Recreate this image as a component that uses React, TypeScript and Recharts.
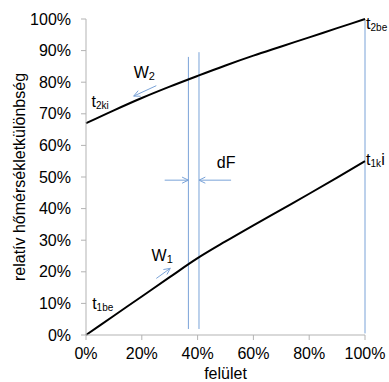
import React from "react";
import { LineChart, Line, XAxis, YAxis, ReferenceLine, ReferenceDot } from "recharts";

// relative surface (felület)
const surface = [0, 0.1, 0.2, 0.3, 0.4, 0.5, 0.6, 0.7, 0.8, 0.9, 1];
// t2 curve (upper) and t1 curve (lower)
const hotSide = [0.67, 0.711, 0.75, 0.786, 0.82, 0.853, 0.884, 0.913, 0.942, 0.971, 1.0];
const coldSide = [0, 0.061, 0.122, 0.183, 0.243, 0.296, 0.347, 0.397, 0.447, 0.498, 0.55];

const xTicks = [0, 0.2, 0.4, 0.6, 0.8, 1];
const yTicks = [0, 0.1, 0.2, 0.3, 0.4, 0.5, 0.6, 0.7, 0.8, 0.9, 1];

// blue guide lines [x, yFrom, yTo]
const guides = [
  [0.367, 0.019, 0.88],
  [0.405, 0.019, 0.895],
  [1, 0.005, 1],
];

// arrows [xFrom, yFrom, xTo, yTo]
const arrows = [
  [0.282, 0.49, 0.367, 0.49],
  [0.52, 0.49, 0.405, 0.49],
  [0.252, 0.789, 0.171, 0.756],
  [0.252, 0.179, 0.302, 0.211],
];

// text notes: position, main text, subscript, tail
const notes = [
  { x: 0.02, y: 0.723, main: "t", sub: "2ki", tail: "" },
  { x: 0.022, y: 0.082, main: "t", sub: "1be", tail: "" },
  { x: 1.004, y: 0.968, main: "t", sub: "2be", tail: "" },
  { x: 1.004, y: 0.538, main: "t", sub: "1k", tail: "i" },
  { x: 0.171, y: 0.813, main: "W", sub: "2", tail: "" },
  { x: 0.235, y: 0.234, main: "W", sub: "1", tail: "" },
  { x: 0.469, y: 0.528, main: "dF", sub: "", tail: "" },
];

const rows = surface.map((x, i) => ({ x, upper: hotSide[i], lower: coldSide[i] }));

const BLUE = "#7aa3d8";
const AXIS = "#b3b3b3";
const pct = (v: number) => `${Math.round(v * 100)}%`;

const ArrowShape = (props: any) => {
  const { x1, y1, x2, y2 } = props;
  const ang = Math.atan2(y2 - y1, x2 - x1);
  const len = 7;
  const spread = 0.45;
  const p1 = [x2 - len * Math.cos(ang - spread), y2 - len * Math.sin(ang - spread)];
  const p2 = [x2 - len * Math.cos(ang + spread), y2 - len * Math.sin(ang + spread)];
  return (
    <g>
      <line x1={x1} y1={y1} x2={x2} y2={y2} stroke={BLUE} strokeWidth={1} />
      <polyline
        points={`${p1[0]},${p1[1]} ${x2},${y2} ${p2[0]},${p2[1]}`}
        fill="none"
        stroke={BLUE}
        strokeWidth={1}
      />
    </g>
  );
};

const noteShape = (n: (typeof notes)[number]) => (props: any) => {
  const subSize = n.main === "W" ? 11 : 10;
  return (
    <text x={props.cx} y={props.cy} fontSize={16} fill="#000" fontFamily="Liberation Sans, Arial, sans-serif">
      {n.main}
      {n.sub && (
        <tspan fontSize={subSize} dy={2}>
          {n.sub}
        </tspan>
      )}
      {n.tail && (
        <tspan fontSize={16} dy={-2}>
          {n.tail}
        </tspan>
      )}
    </text>
  );
};

export default function App() {
  return (
    <div style={{ position: "absolute", left: 0, top: 0 }}>
      <LineChart
        width={389}
        height={382}
        data={rows}
        margin={{ top: 19, right: 24, bottom: 0, left: 0 }}
        style={{ fontFamily: "Liberation Sans, Arial, sans-serif" }}
      >
        <XAxis
          dataKey="x"
          type="number"
          domain={[0, 1]}
          ticks={xTicks}
          tickFormatter={pct}
          height={47}
          tickSize={5}
          tickMargin={8}
          stroke={AXIS}
          tick={{ fill: "#000", fontSize: 16 }}
          label={{ value: "felület", position: "insideBottom", offset: 3, fill: "#000", fontSize: 16 }}
        />
        <YAxis
          type="number"
          domain={[0, 1]}
          ticks={yTicks}
          tickFormatter={pct}
          width={86}
          tickSize={5}
          tickMargin={10}
          stroke={AXIS}
          tick={{ fill: "#000", fontSize: 16 }}
        />
        <text transform="rotate(-90)" x={-177} y={24.5} textAnchor="middle" fontSize={16} fill="#000">
          relatív hőmérsékletkülönbség
        </text>
        {guides.map(([x, a, b], i) => (
          <ReferenceLine
            key={`g${i}`}
            segment={[
              { x, y: a },
              { x, y: b },
            ]}
            stroke={BLUE}
            strokeWidth={1}
            ifOverflow="visible"
          />
        ))}
        {arrows.map(([xa, ya, xb, yb], i) => (
          <ReferenceLine
            key={`a${i}`}
            segment={[
              { x: xa, y: ya },
              { x: xb, y: yb },
            ]}
            shape={ArrowShape}
            ifOverflow="visible"
          />
        ))}
        <Line
          dataKey="upper"
          type="monotone"
          stroke="#000"
          strokeWidth={2}
          dot={false}
          activeDot={false}
          isAnimationActive={false}
        />
        <Line
          dataKey="lower"
          type="monotone"
          stroke="#000"
          strokeWidth={2}
          dot={false}
          activeDot={false}
          isAnimationActive={false}
        />
        {notes.map((n, i) => (
          <ReferenceDot key={`n${i}`} x={n.x} y={n.y} r={1} ifOverflow="visible" shape={noteShape(n)} />
        ))}
      </LineChart>
    </div>
  );
}
